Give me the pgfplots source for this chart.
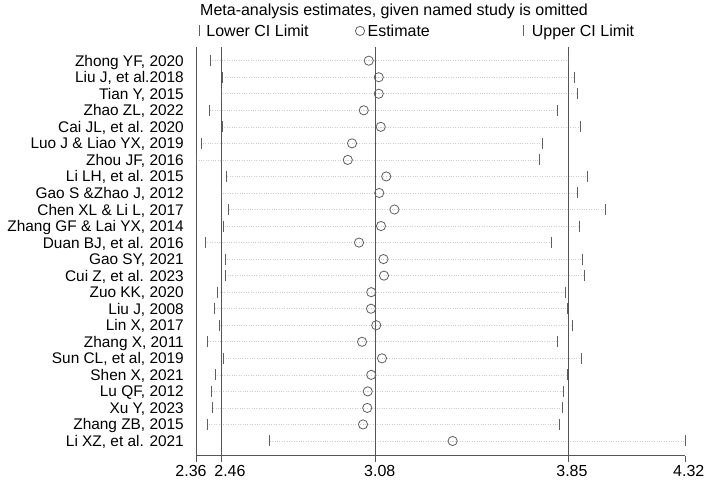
\documentclass[border=0pt]{standalone}
\usepackage{pgfplots}
\pgfplotsset{compat=1.18}
\usepackage{pgfplotstable}
\usepackage{fontspec}
\setmainfont{Liberation Sans}
\definecolor{lc}{RGB}{85,85,85}
\definecolor{mc}{RGB}{95,95,95}
\definecolor{dc}{RGB}{205,205,205}
\newcommand{\fs}{\fontsize{16}{19}\selectfont}
\newcommand{\fy}{\fontsize{15.4}{18}\selectfont}
\pgfplotstableread{
row lo est hi
24 2.417 3.052 3.850
23 2.465 3.092 3.874
22 2.460 3.092 3.886
21 2.413 3.032 3.809
20 2.465 3.100 3.898
19 2.381 2.985 3.746
18 2.360 2.968 3.734
17 2.483 3.122 3.928
16 2.463 3.094 3.889
15 2.491 3.155 4.000
14 2.468 3.101 3.896
13 2.397 3.013 3.785
12 2.479 3.111 3.908
11 2.476 3.113 3.916
10 2.444 3.062 3.840
9 2.435 3.061 3.849
8 2.453 3.082 3.868
7 2.404 3.025 3.806
6 2.471 3.105 3.902
5 2.437 3.062 3.849
4 2.423 3.048 3.832
3 2.424 3.046 3.828
2 2.406 3.029 3.814
1 2.656 3.388 4.320
}\datatable
\begin{document}
\begin{tikzpicture}
\useasboundingbox (0,0) rectangle (708pt,483pt);
\node[anchor=base west, inner sep=0pt, font=\fs] at (200pt,467pt) {Meta-analysis estimates, given named study is omitted};
\begin{axis}[
  at={(196pt,27.3pt)}, anchor=south west,
  scale only axis, width=489.3pt, height=408.4pt,
  xmin=2.36, xmax=4.32, ymin=0.11, ymax=24.81,
  axis x line=bottom, axis y line=left,
  axis line style={-, draw=lc, line width=0.8pt},
  xtick={2.36,2.46,3.08,3.85,4.32},
  xticklabels={{\makebox[0pt]{\kern-10pt 2.36}},{\makebox[0pt]{\kern18pt 2.46}},{\makebox[0pt]{\kern8pt 3.08}},{\makebox[0pt]{\kern8pt 3.85}},{\makebox[0pt]{\kern7pt 4.32}}},
  tick align=outside, major tick length=6pt,
  x tick style={draw=lc, line width=0.8pt},
  ytick={1,...,24},
  y tick style={draw=none},
  yticklabels={{Li XZ, et al. 2021},{Zhang ZB, 2015},{Xu Y, 2023},{Lu QF, 2012},{Shen X, 2021},{Sun CL, et al, 2019},{Zhang X, 2011},{Lin X, 2017},{Liu J, 2008},{Zuo KK, 2020},{Cui Z, et al. 2023},{Gao SY, 2021},{Duan BJ, et al. 2016},{Zhang GF \& Lai YX, 2014},{Chen XL \& Li L, 2017},{Gao S \&Zhao J, 2012},{Li LH, et al. 2015},{Zhou JF, 2016},{Luo J \& Liao YX, 2019},{Cai JL, et al. 2020},{Zhao ZL, 2022},{Tian Y, 2015},{Liu J, et al.2018},{Zhong YF, 2020}},
  xticklabel style={font=\fs, text=black},
  yticklabel style={font=\fy, text=black, anchor=base east, inner sep=0pt, xshift=-6pt, yshift=-5.5pt},
  clip=false,
  legend style={at={(0.0074,1.04)}, anchor=west, draw=none, fill=none, legend columns=3, font=\fs, inner sep=0pt, nodes={inner sep=0pt}, /tikz/column sep=0pt},
  legend image code/.code={\draw[#1, mark repeat=1, mark phase=1] plot coordinates {(0pt,0pt)};},
]
\addplot[draw=none, mark=none, forget plot, error bars/.cd, x dir=both, x explicit, error mark=none, error bar style={draw=dc, dotted, line width=0.6pt}]
  table[x=est, y=row, x error plus expr=\thisrow{hi}-\thisrow{est}, x error minus expr=\thisrow{est}-\thisrow{lo}] {\datatable};
\addplot[lc, line width=0.8pt, forget plot] coordinates {(2.46,0.11) (2.46,24.81)};
\addplot[lc, line width=0.8pt, forget plot] coordinates {(3.08,0.11) (3.08,24.81)};
\addplot[lc, line width=0.8pt, forget plot] coordinates {(3.85,0.11) (3.85,24.81)};
\addplot[only marks, mark=|, mark size=5.5pt, color=mc, mark options={line width=0.8pt}] table[x=lo, y=row] {\datatable};
\addlegendentry{\makebox[155.6pt][l]{\hspace{6.6pt}Lower CI Limit}}
\addplot[only marks, mark=o, mark size=4.6pt, color=mc, mark options={line width=0.8pt}] table[x=est, y=row] {\datatable};
\addlegendentry{\makebox[158.7pt][l]{\hspace{3pt}Estimate}}
\addplot[only marks, mark=|, mark size=5.5pt, color=mc, mark options={line width=0.8pt}] table[x=hi, y=row] {\datatable};
\addlegendentry{\hspace{8.6pt}Upper CI Limit}
\end{axis}
\end{tikzpicture}
\end{document}
